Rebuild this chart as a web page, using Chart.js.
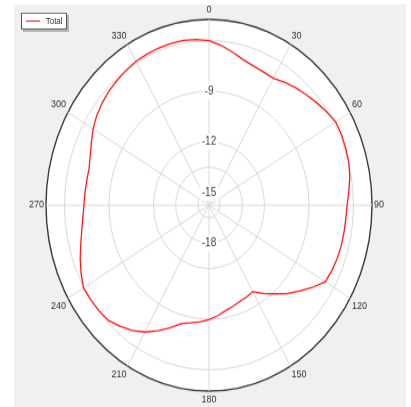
<!DOCTYPE html>
<html>
<head>
<meta charset="utf-8">
<script src="https://cdn.jsdelivr.net/npm/chart.js@4.4.1/dist/chart.umd.min.js"></script>
<style>
  html, body { margin: 0; padding: 0; background: #ffffff; overflow: hidden; width: 411px; height: 407px; }
  #frame { position: absolute; left: 0; top: 0; width: 411px; height: 357px; transform: scaleY(1.14); transform-origin: 0 0; }
  #panel { position: absolute; left: 14px; top: 4.4px; width: 392px; height: 353px; background: #f0f0f0; }
  #polar { position: absolute; left: 4.3px; top: 3.7px; }
  #polar-legend { position: absolute; left: 20.7px; top: 11.1px; width: 44px; height: 13px; background: #fff; border: 1px solid #555; box-shadow: 2px 2px 0 #b4b4b4; }
  #polar-legend ul { list-style: none; margin: 0; padding: 0; }
  #polar-legend li { display: flex; align-items: center; height: 13px; padding-left: 4px; font: 8px 'Liberation Sans', Arial, sans-serif; color: #333; }
</style>
</head>
<body>
<div id="frame">
  <div id="panel"></div>
  <canvas id="polar" width="411" height="354"></canvas>
  <div id="polar-legend"><ul></ul></div>
</div>
<script>
// angles (deg, clockwise from top) and the measured pattern (dB)
const angles = [
  0, 5, 10, 15, 20, 25, 30, 35, 40, 45, 50, 55,
  60, 65, 70, 75, 80, 85, 90, 95, 100, 105, 110, 115,
  120, 125, 130, 135, 140, 145, 150, 155, 160, 165, 170, 175,
  180, 185, 190, 195, 200, 205, 210, 215, 220, 225, 230, 235,
  240, 245, 250, 255, 260, 265, 270, 275, 280, 285, 290, 295,
  300, 305, 310, 315, 320, 325, 330, 335, 340, 345, 350, 355,
];
const totalDb = [
  -6.00, -6.25, -6.55, -6.83, -6.98, -7.05, -7.07, -6.86, -6.67, -6.49, -6.29, -6.08,
  -5.88, -5.88, -5.93, -5.98, -6.10, -6.28, -6.43, -6.48, -6.50, -6.51, -6.54, -6.60,
  -6.69, -7.25, -7.83, -8.35, -8.90, -9.38, -9.84, -9.76, -9.68, -9.55, -9.40, -9.18,
  -8.97, -8.82, -8.68, -8.50, -8.02, -7.55, -7.08, -6.70, -6.40, -6.12, -6.05, -6.00,
  -5.97, -6.22, -6.50, -6.79, -7.03, -7.20, -7.31, -7.35, -7.37, -7.37, -7.22, -6.99,
  -6.72, -6.50, -6.33, -6.20, -6.10, -6.00, -5.91, -5.87, -5.84, -5.84, -5.84, -5.90,
];
const angleLabelStep = 30;

// radial axis: ring values and their labels
const ringValues = [-18, -15, -12, -9, -6];
const ringLabels = ['-18', '-15', '-12', '-9', ''];
const axisMin = -15.75;
const axisMax = -4.75;

// values under the axis minimum are mirrored through the centre
const fold = (v) => (v < axisMin ? 2 * axisMin - v : v);

const gridColor = '#dadada';
const borderColor = '#3a3a3a';
const textColor = '#333333';

const ctx = document.getElementById('polar');

const chart = new Chart(ctx, {
  type: 'radar',
  data: {
    labels: angles.map(String),
    datasets: [
      {
        label: 'Total',
        data: totalDb,
        borderColor: '#ff1a1a',
        backgroundColor: '#ff1a1a',
        borderWidth: 1.3,
        pointRadius: 0,
        fill: false,
        tension: 0,
      },
    ],
  },
  options: {
    responsive: false,
    animation: false,
    layout: {
      padding: 0,
    },
    scales: {
      r: {
        min: axisMin,
        max: axisMax,
        backgroundColor: '#ffffff',
        afterBuildTicks: (scale) => {
          scale.ticks = ringValues.map((v) => ({ value: fold(v) })).concat({ value: axisMax });
        },
        grid: {
          circular: true,
          color: (c) => (c.tick && c.tick.value === axisMax ? borderColor : gridColor),
          lineWidth: (c) => (c.tick && c.tick.value === axisMax ? 1.4 : 1),
        },
        angleLines: {
          color: gridColor,
          lineWidth: (c) => (angles[c.index] % angleLabelStep === 0 ? 1 : 0),
        },
        pointLabels: {
          // chart.js adds half the tick backdrop height (7px) on top of this
          padding: -5,
          color: textColor,
          font: { family: "'Liberation Sans Narrow', 'Liberation Sans', Arial, sans-serif", size: 9, lineHeight: 1.3334 },
          callback: (label, index) => (angles[index] % angleLabelStep === 0 ? label : ''),
        },
        ticks: {
          color: '#444444',
          font: { family: "'Liberation Sans', Arial, sans-serif", size: 10 },
          backdropColor: '#ffffff',
          backdropPadding: 2,
          showLabelBackdrop: (c) => !!(c.tick && c.tick.label),
          callback: (value, index) => {
            if (index >= ringValues.length || ringValues[index] < axisMin) return '';
            return ringLabels[index];
          },
        },
      },
    },
    plugins: {
      legend: {
        display: false,
      },
      tooltip: {
        enabled: false,
      },
      htmlLegend: {
        containerID: 'polar-legend',
      },
    },
  },
  plugins: [
    {
      // labels of mirrored rings go below the centre
      id: 'mirroredTicks',
      beforeDatasetsDraw(c) {
        const scale = c.scales.r;
        const g = c.ctx;
        g.save();
        g.font = "10px 'Liberation Sans', Arial, sans-serif";
        g.textAlign = 'center';
        g.textBaseline = 'middle';
        ringValues.forEach((v, i) => {
          if (v >= axisMin) return;
          const offset = scale.getDistanceFromCenterForValue(fold(v));
          const w = g.measureText(ringLabels[i]).width;
          g.fillStyle = '#ffffff';
          g.fillRect(scale.xCenter - w / 2 - 2, scale.yCenter + offset - 7, w + 4, 14);
          g.fillStyle = '#444444';
          g.fillText(ringLabels[i], scale.xCenter, scale.yCenter + offset);
        });
        g.restore();
      },
    },
    {
      id: 'htmlLegend',
      afterUpdate(c, args, options) {
        const legendContainer = document.getElementById(options.containerID);
        const ul = legendContainer.querySelector('ul');
        if (!ul) return;
        while (ul.firstChild) {
          ul.firstChild.remove();
        }
        const items = c.options.plugins.legend.labels.generateLabels(c);
        items.forEach((item) => {
          const li = document.createElement('li');
          // line sample
          const box = document.createElement('span');
          box.style.display = 'block';
          box.style.width = '14px';
          box.style.height = '1px';
          box.style.backgroundColor = item.strokeStyle;
          box.style.marginRight = '6px';
          const label = document.createElement('span');
          label.appendChild(document.createTextNode(item.text));
          li.appendChild(box);
          li.appendChild(label);
          ul.appendChild(li);
        });
      },
    },
  ],
});
</script>
</body>
</html>
